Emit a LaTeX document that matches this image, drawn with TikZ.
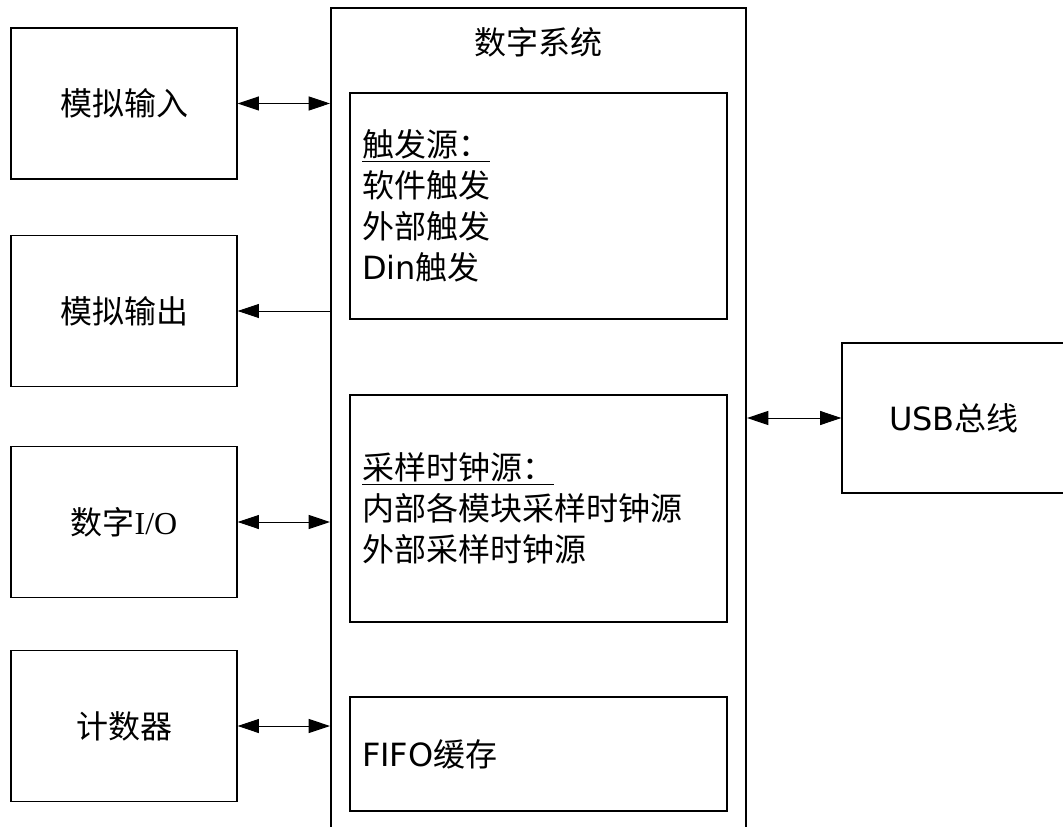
\documentclass[tikz,border=0pt]{standalone}
\usepackage{fontspec}
\setmainfont{Noto Sans CJK SC}
\newfontfamily\vd{DejaVu Sans}
\newfontfamily\ser{Liberation Serif}
\usetikzlibrary{arrows.meta}
\tikzset{
  txt/.style={font=\fontsize{24pt}{30.75pt}\selectfont},
  sidebox/.style={draw, line width=0.85pt, minimum width=169.5pt, minimum height=113.25pt, inner sep=0pt, txt},
  mainbox/.style={draw, line width=1.5pt, minimum width=311.25pt, minimum height=630pt, inner sep=0pt},
  innerbox/.style={draw, line width=0.85pt, minimum width=282.75pt, inner xsep=9pt, inner ysep=0pt,
    text width=264.75pt, align=left, txt},
  link/.style={line width=0.75pt, {Triangle[length=16pt,width=10.5pt]}-{Triangle[length=16pt,width=10.5pt]}},
  linkl/.style={line width=0.75pt, {Triangle[length=16pt,width=10.5pt]}-},
}
\begin{document}
\begin{tikzpicture}[x=0.75pt,y=-0.75pt]
\useasboundingbox (0,0) rectangle (1063,827);
\fill[white] (0,0) rectangle (1063,827);

\node[mainbox] (sys) at (538.5,428) {};
\node[txt] (title) at (538,42) {数字系统};

\node[innerbox, minimum height=169.5pt] (trig) at (538.5,206)
  {\underline{触发源：}\\软件触发\\外部触发\\{\vd Din}触发};
\node[innerbox, minimum height=170.25pt] (clk) at (538.5,508.5)
  {\underline{采样时钟源：}\\内部各模块采样时钟源\\外部采样时钟源};
\node[innerbox, minimum height=85.5pt] (fifo) at (538.5,754)
  {{\vd FIFO}缓存};

\node[sidebox] (ain) at (124,103.5) {模拟输入};
\node[sidebox] (aout) at (124,311) {模拟输出};
\node[sidebox] (dio) at (124,522) {数字{\ser I/O}};
\node[sidebox] (cnt) at (124,726) {计数器};

\node[draw, line width=0.85pt, minimum width=168pt, minimum height=112.5pt, inner sep=0pt, txt] (usb) at (954,418) {{\vd USB}总线};

\draw[link] (ain.east) -- (ain.east -| sys.west);
\draw[linkl] (aout.east) -- (aout.east -| sys.west);
\draw[link] (dio.east) -- (dio.east -| sys.west);
\draw[link] (cnt.east) -- (cnt.east -| sys.west);
\draw[link] (usb.west -| sys.east) -- (usb.west);
\end{tikzpicture}
\end{document}
